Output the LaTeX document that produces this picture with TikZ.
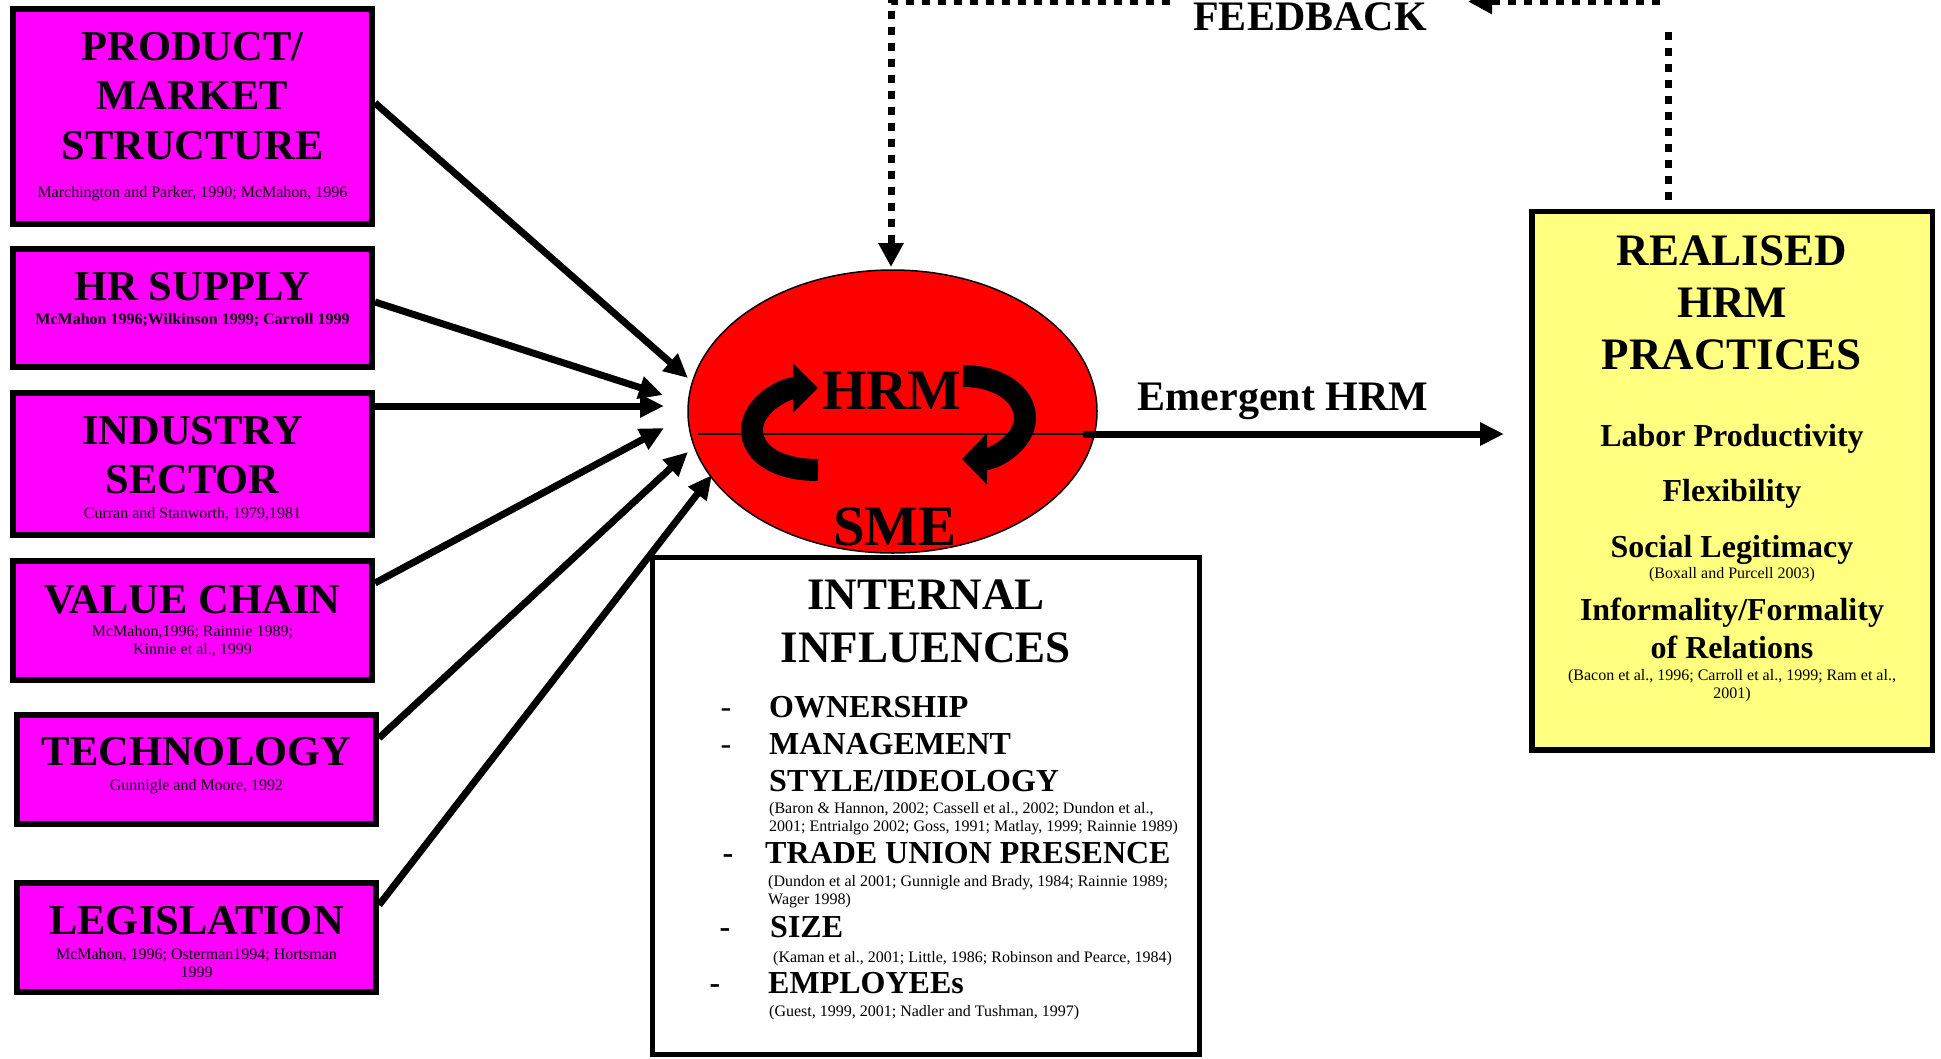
\documentclass[tikz,border=0pt]{standalone}
\usepackage{fontspec}
\setmainfont{Liberation Serif}
\usetikzlibrary{arrows.meta,shapes.geometric,calc}
\definecolor{mag}{RGB}{255,0,255}
\definecolor{redf}{RGB}{255,0,0}
\definecolor{yel}{RGB}{255,255,128}
\newcommand\fsz[2]{\fontsize{#1}{#2}\selectfont}
\begin{document}
\begin{tikzpicture}[x=1pt,y=-1pt,
  mbox/.style={draw=black,line width=6pt,fill=mag,inner sep=0pt,minimum width=359pt},
  ttl/.style={anchor=base,inner sep=0pt,align=center,font=\fsz{42.5}{49.5}\bfseries},
  cite/.style={anchor=base,inner sep=0pt,align=center,font=\fsz{16}{18}},
  citel/.style={anchor=base west,inner sep=0pt,align=left,font=\fsz{16}{18}},
  item/.style={anchor=base west,inner sep=0pt,align=left,font=\fsz{32}{37}\bfseries},
  dashn/.style={anchor=base,inner sep=0pt,font=\fsz{32}{37}},
  dashb/.style={anchor=base,inner sep=0pt,font=\fsz{32}{37}\bfseries},
  ysub/.style={anchor=base,inner sep=0pt,align=center,font=\fsz{32}{37}\bfseries},
  conn/.style={line width=7pt,-{Triangle[length=24pt,width=22pt]}},
  fbline/.style={line width=7pt,dash pattern=on 8pt off 8pt},
  circarrow/.style={line width=22pt,line cap=butt,-{Triangle[length=25pt,width=48pt]}}]
\useasboundingbox (0,0) rectangle (1941,1058);

% (multi-line nodes are placed by the baseline of their last line)

% ---------- left boxes ----------
\node[mbox,minimum height=215pt] (b1) at (192.5,116.5) {};
\node[ttl] (b1t) at (192.5,159) {PRODUCT/\\MARKET\\STRUCTURE};
\node[cite] (b1c) at (192.5,197) {Marchington and Parker, 1990; McMahon, 1996};

\node[mbox,minimum height=118pt] (b2) at (192.5,308) {};
\node[ttl] (b2t) at (192.5,300) {HR SUPPLY};
\node[cite,font=\fsz{16}{18}\bfseries] (b2c) at (192.5,324) {McMahon 1996;Wilkinson 1999; Carroll 1999};

\node[mbox,minimum height=142pt] (b3) at (192.5,464) {};
\node[ttl] (b3t) at (192.5,493.5) {INDUSTRY\\SECTOR};
\node[cite] (b3c) at (192.5,518) {Curran and Stanworth, 1979,1981};

\node[mbox,minimum height=119pt] (b4) at (192.5,620.5) {};
\node[ttl] (b4t) at (192.5,613) {VALUE CHAIN};
\node[cite] (b4c) at (192.5,654) {McMahon,1996; Rainnie 1989;\\Kinnie et al., 1999};

\node[mbox,minimum height=109pt] (b5) at (196.5,769.5) {};
\node[ttl] (b5t) at (196.5,765) {TECHNOLOGY};
\node[cite] (b5c) at (196.5,790) {Gunnigle and Moore, 1992};

\node[mbox,minimum height=109pt] (b6) at (196.5,937.5) {};
\node[ttl] (b6t) at (196.5,934) {LEGISLATION};
\node[cite] (b6c) at (196.5,977) {McMahon, 1996; Osterman1994; Hortsman\\1999};

% ---------- central SME ellipse ----------
\node[ellipse,draw=black,line width=1.5pt,fill=redf,minimum width=409pt,minimum height=283pt,inner sep=0pt] (sme) at (892.5,411.5) {};
\draw[circarrow] (818,470) .. controls (775,470) and (752,452) .. (752,430) .. controls (752,405) and (785,388) .. (818,388);
\draw[circarrow,-{Triangle[length=25pt,width=50pt]}] (963,376) .. controls (1000,376) and (1025,395) .. (1025,418) .. controls (1025,442) and (995,459) .. (962,459);
\coordinate (hl) at (698,434);
\coordinate (hr) at (1083,434);
\draw[line width=1.5pt] (hl) -- (hr);
\node[anchor=base,inner sep=0pt,font=\fsz{57}{60}\bfseries] (hrm) at (892,409) {HRM};
\node[anchor=base,inner sep=0pt,font=\fsz{57}{60}\bfseries] (smet) at (895,545) {SME};

% ---------- arrows into the SME ----------
\coordinate (a1) at (688,378);
\coordinate (a2) at (663,395);
\coordinate (a3) at (664,406);
\coordinate (a4) at (664,428);
\coordinate (a5) at (688,452);
\coordinate (a6) at (712,475);
\draw[conn] ($(b1.east)+(0,-13.5)$) -- (a1);
\draw[conn] ($(b2.east)+(0,-6)$) -- (a2);
\draw[conn] ($(b3.east)+(0,-58)$) -- (a3);
\draw[conn] ($(b4.east)+(0,-37.5)$) -- (a4);
\draw[conn] ($(b5.east)+(0,-31.5)$) -- (a5);
\draw[conn] ($(b6.east)+(0,-32.5)$) -- (a6);

% ---------- internal influences ----------
\node[draw=black,line width=5pt,fill=white,minimum width=547pt,minimum height=497pt,inner sep=0pt] (ib) at (926,806) {};
\node[anchor=base,inner sep=0pt,align=center,font=\fsz{45}{53}\bfseries] (ibt) at (926,662) {INTERNAL\\INFLUENCES};
\node[dashn] (d1) at (726,717) {-};
\node[item] (i1) at (769,717) {OWNERSHIP};
\node[dashn] (d2) at (726,754) {-};
\node[item] (i2) at (769,791) {MANAGEMENT\\STYLE/IDEOLOGY};
\node[citel] (c2) at (769,831) {(Baron \& Hannon, 2002; Cassell et al., 2002; Dundon et al.,\\2001; Entrialgo 2002; Goss, 1991; Matlay, 1999; Rainnie 1989)};
\node[dashb] (d3) at (728,863) {-};
\node[item] (i3) at (765,863) {TRADE UNION PRESENCE};
\node[citel] (c3) at (768,904) {(Dundon et al 2001; Gunnigle and Brady, 1984; Rainnie 1989;\\Wager 1998)};
\node[dashb] (d4) at (725,937) {-};
\node[item] (i4) at (770,937) {SIZE};
\node[citel] (c4) at (773,962) {(Kaman et al., 2001; Little, 1986; Robinson and Pearce, 1984)};
\node[dashb] (d5) at (715,993) {-};
\node[item] (i5) at (768,993) {EMPLOYEEs};
\node[citel] (c5) at (769,1016) {(Guest, 1999, 2001; Nadler and Tushman, 1997)};

% ---------- realised HRM practices ----------
\node[draw=black,line width=5.5pt,fill=yel,minimum width=400.5pt,minimum height=538.5pt,inner sep=0pt] (yb) at (1732,480.5) {};
\node[anchor=base,inner sep=0pt,align=center,font=\fsz{45}{52}\bfseries] (ybt) at (1732,369) {REALISED\\HRM\\PRACTICES};
\node[ysub] (y1) at (1732,446) {Labor Productivity};
\node[ysub] (y2) at (1732,501) {Flexibility};
\node[ysub] (y3) at (1732,557) {Social Legitimacy};
\node[cite] (y3c) at (1732,578) {(Boxall and Purcell 2003)};
\node[ysub,font=\fsz{32}{38}\bfseries] (y4) at (1732,658) {Informality/Formality\\of Relations};
\node[cite] (y4c) at (1732,698) {(Bacon et al., 1996; Carroll et al., 1999; Ram et al.,\\2001)};

% ---------- emergent HRM ----------
\coordinate (emtip) at (1504,434);
\draw[conn] (hr) -- (emtip);
\node[anchor=base,inner sep=0pt,font=\fsz{42}{50}\bfseries] (emt) at (1283,410) {Emergent HRM};

% ---------- feedback loop ----------
\coordinate (fbA) at (1668,32);
\coordinate (fbC) at (1660,1.5);
\coordinate (fbD) at (1468,1.5);
\coordinate (fbE) at (1170,1.5);
\coordinate (fbtip) at (891,267);
\draw[fbline] ($(yb.north)+(-64,-9)$) -- (fbA);
\draw[fbline,-{Triangle[length=24pt,width=24pt]}] (fbC) -- (fbD);
\draw[fbline,-{Triangle[length=24pt,width=24pt]}] (fbE) -| (fbtip);
\node[anchor=base,inner sep=0pt,font=\fsz{42}{50}\bfseries] (fbt) at (1310,30) {FEEDBACK};
\end{tikzpicture}
\end{document}
